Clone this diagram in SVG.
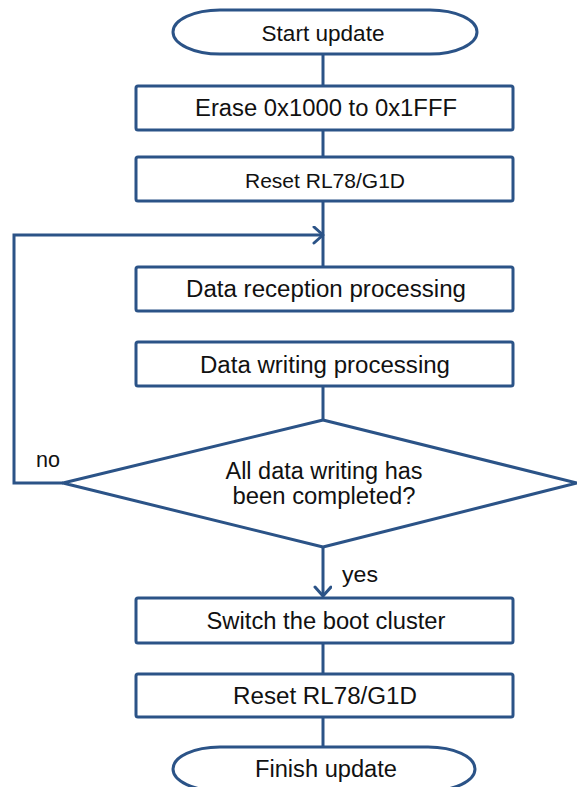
<svg xmlns="http://www.w3.org/2000/svg" width="577" height="787" viewBox="0 0 577 787">
<style>
.shape{fill:#fff;stroke:#2b5387;stroke-width:3;stroke-linejoin:round}
.line{fill:none;stroke:#2b5387;stroke-width:3}
text{font-family:"Liberation Sans",Arial,sans-serif;font-size:23.5px;fill:#111;text-anchor:middle}
.lbl{text-anchor:start;font-size:22px}
</style>
<defs>
<marker id="arr" markerUnits="userSpaceOnUse" markerWidth="14" markerHeight="20" refX="11" refY="9" orient="auto" viewBox="0 0 14 20">
<path d="M2,1 L11,9 L2,17" fill="none" stroke="#2b5387" stroke-width="3" stroke-linecap="round" stroke-linejoin="round"/>
</marker>
</defs>
<g id="connectors">
<line class="line" x1="323" y1="54" x2="323" y2="86"/>
<line class="line" x1="323" y1="130" x2="323" y2="157"/>
<line class="line" x1="323" y1="201" x2="323" y2="267"/>
<polyline class="line" points="63,483 14,483 14,235 323,235" marker-end="url(#arr)"/>
<line class="line" x1="323" y1="386" x2="323" y2="420"/>
<line class="line" x1="323" y1="547" x2="323" y2="596" marker-end="url(#arr)"/>
<line class="line" x1="323" y1="643" x2="323" y2="674"/>
<line class="line" x1="323" y1="717" x2="323" y2="747"/>
<text class="lbl" x="36" y="467" textLength="24" lengthAdjust="spacingAndGlyphs">no</text>
<text class="lbl" x="342" y="582" textLength="36" lengthAdjust="spacingAndGlyphs">yes</text>
</g>
<g id="start">
<path class="shape" d="M220,10 H430 A47,22 0 0 1 430,54 H220 A47,22 0 0 1 220,10 Z"/>
<text x="323" y="41" textLength="123" lengthAdjust="spacingAndGlyphs" style="font-size:22.5px">Start update</text>
</g>
<g id="erase">
<rect class="shape" x="136" y="86" width="377" height="44" rx="2"/>
<text x="326" y="116" textLength="262" lengthAdjust="spacingAndGlyphs">Erase 0x1000 to 0x1FFF</text>
</g>
<g id="reset1">
<rect class="shape" x="136" y="157" width="377" height="44" rx="2"/>
<text x="325" y="188" textLength="160" lengthAdjust="spacingAndGlyphs" style="font-size:21px">Reset RL78/G1D</text>
</g>
<g id="reception">
<rect class="shape" x="136" y="267" width="377" height="44" rx="2"/>
<text x="326" y="297" textLength="280" lengthAdjust="spacingAndGlyphs">Data reception processing</text>
</g>
<g id="writing">
<rect class="shape" x="136" y="342" width="377" height="44" rx="2"/>
<text x="325" y="373" textLength="250" lengthAdjust="spacingAndGlyphs">Data writing processing</text>
</g>
<g id="decision">
<polygon class="shape" points="323,420 577,483 323,547 63,483"/>
<text x="324" y="479" textLength="197" lengthAdjust="spacingAndGlyphs">All data writing has</text>
<text x="324" y="504" textLength="183" lengthAdjust="spacingAndGlyphs">been completed?</text>
</g>
<g id="switch">
<rect class="shape" x="136" y="598" width="377" height="45" rx="2"/>
<text x="326" y="629" textLength="239" lengthAdjust="spacingAndGlyphs">Switch the boot cluster</text>
</g>
<g id="reset2">
<rect class="shape" x="136" y="674" width="377" height="43" rx="2"/>
<text x="325" y="704" textLength="184" lengthAdjust="spacingAndGlyphs">Reset RL78/G1D</text>
</g>
<g id="finish">
<path class="shape" d="M220,747 H428 A47,22 0 0 1 428,791 H220 A47,22 0 0 1 220,747 Z"/>
<text x="326" y="777" textLength="142" lengthAdjust="spacingAndGlyphs">Finish update</text>
</g>
</svg>
